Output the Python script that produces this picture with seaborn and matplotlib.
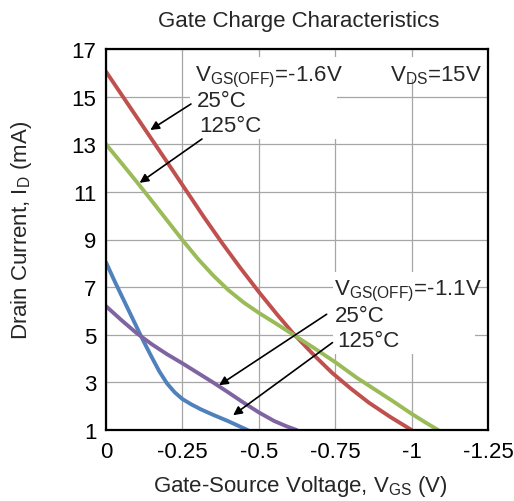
import matplotlib
matplotlib.use("Agg")
import matplotlib.pyplot as plt
from matplotlib.patches import Rectangle
import seaborn as sns
import pandas as pd

# ---- data ----
v_red = [0, -0.05, -0.10, -0.15, -0.20, -0.26, -0.32, -0.38, -0.44, -0.50, -0.56,
         -0.613, -0.68, -0.74, -0.80, -0.86, -0.93, -1.0]
i_red = [16.05, 15.1, 14.15, 13.2, 12.25, 11.1, 9.95, 8.85, 7.8, 6.8, 5.85,
         5.05, 4.15, 3.4, 2.75, 2.15, 1.55, 1.0]

v_green = [0, -0.05, -0.10, -0.15, -0.20, -0.25, -0.30, -0.35, -0.40, -0.45, -0.50,
           -0.56, -0.613, -0.68, -0.75, -0.82, -0.88, -0.94, -1.0, -1.05, -1.087]
i_green = [13.0, 12.22, 11.43, 10.62, 9.8, 8.98, 8.2, 7.5, 6.88, 6.36, 5.92,
           5.44, 5.0, 4.45, 3.85, 3.2, 2.7, 2.2, 1.68, 1.28, 1.0]

v_blue = [0, -0.03, -0.06, -0.09, -0.12, -0.15, -0.175, -0.20, -0.225, -0.25,
          -0.28, -0.31, -0.35, -0.40, -0.463]
i_blue = [8.04, 7.2, 6.4, 5.6, 4.8, 4.05, 3.45, 2.95, 2.58, 2.3,
          2.07, 1.87, 1.64, 1.37, 1.0]

v_purple = [0, -0.05, -0.10, -0.15, -0.20, -0.25, -0.30, -0.35, -0.40, -0.45,
            -0.50, -0.55, -0.59, -0.624]
i_purple = [6.2, 5.62, 5.07, 4.6, 4.18, 3.8, 3.4, 3.0, 2.58, 2.15,
            1.74, 1.38, 1.16, 1.0]

series_names = ["-1.6V 25C", "-1.6V 125C", "-1.1V 125C", "-1.1V 25C"]
colors = ["#c0504d", "#9bbb59", "#4f81bd", "#8064a2"]

x_ticks = [0, -0.25, -0.5, -0.75, -1.0, -1.25]
x_labels = ["0", "-0.25", "-0.5", "-0.75", "-1", "-1.25"]
y_ticks = [1, 3, 5, 7, 9, 11, 13, 15, 17]

frames = []
for name, v, i in zip(series_names, [v_red, v_green, v_blue, v_purple],
                      [i_red, i_green, i_blue, i_purple]):
    frames.append(pd.DataFrame({"V": v, "I": i, "series": name}))
df = pd.concat(frames, ignore_index=True)

# ---- style ----
sns.set_style("white")
plt.rcParams["font.family"] = ["Liberation Sans", "DejaVu Sans"]
plt.rcParams["mathtext.fontset"] = "custom"
plt.rcParams["mathtext.rm"] = "Liberation Sans"
plt.rcParams["mathtext.it"] = "Liberation Sans"
plt.rcParams["mathtext.bf"] = "Liberation Sans:bold"
plt.rcParams["axes.unicode_minus"] = False
plt.rcParams["lines.solid_capstyle"] = "round"
plt.rcParams["lines.solid_joinstyle"] = "round"

FS = 16
fig = plt.figure(figsize=(5.14, 5.02), dpi=100)
ax = fig.add_axes([106 / 514, 1 - 431 / 502, 382 / 514, 381 / 502])

sns.lineplot(data=df, x="V", y="I", hue="series", hue_order=series_names,
             palette=colors, sort=False, legend=False, linewidth=2.8,
             estimator=None, ax=ax, zorder=2)

ax.set_xlim(0, -1.25)
ax.set_ylim(1, 17)
ax.set_xticks(x_ticks)
ax.set_xticklabels(x_labels)
ax.set_yticks(y_ticks)
ax.set_yticklabels([str(t) for t in y_ticks])
ax.tick_params(axis="both", length=0, labelsize=FS, colors="black")
ax.tick_params(axis="x", pad=8)
ax.tick_params(axis="y", pad=7)
ax.set_axisbelow(True)
ax.grid(True, color="#a6a6a6", linewidth=0.9)
for s in ax.spines.values():
    s.set_color("black")
    s.set_linewidth(1.6)
    s.set_zorder(5)

# white boxes behind annotation text
for (x0, x1, y0, y1) in [(-0.276, -0.756, 13.22, 16.66),
                         (-0.906, -1.223, 15.74, 16.66),
                         (-0.744, -1.207, 4.18, 7.63)]:
    ax.add_patch(Rectangle((x0, y0), x1 - x0, y1 - y0, facecolor="white",
                           edgecolor="none", zorder=1))

ax.text(-0.2896, 15.70, r"V$_{\mathrm{GS(OFF)}}$=-1.6V", fontsize=FS, va="baseline", ha="left", zorder=3)
ax.text(-0.2975, 14.62, "25°C", fontsize=FS, va="baseline", ha="left", zorder=3)
ax.text(-0.305, 13.57, "125°C", fontsize=FS, va="baseline", ha="left", zorder=3)
ax.text(-0.929, 15.70, r"V$_{\mathrm{DS}}$=15V", fontsize=FS, va="baseline", ha="left", zorder=3)
ax.text(-0.747, 6.70, r"V$_{\mathrm{GS(OFF)}}$=-1.1V", fontsize=FS, va="baseline", ha="left", zorder=3)
ax.text(-0.750, 5.58, "25°C", fontsize=FS, va="baseline", ha="left", zorder=3)
ax.text(-0.757, 4.53, "125°C", fontsize=FS, va="baseline", ha="left", zorder=3)

arrows = [((-0.278, 14.69), (-0.145, 13.60)),
          ((-0.314, 13.22), (-0.110, 11.38)),
          ((-0.722, 5.86), (-0.370, 2.88)),
          ((-0.741, 4.67), (-0.416, 1.62))]
for tail, head in arrows:
    ax.annotate("", xy=head, xytext=tail,
                arrowprops=dict(arrowstyle="-|>", color="black", lw=1.2,
                                mutation_scale=13, shrinkA=0, shrinkB=0),
                zorder=4)

ax.set_xlabel(r"Gate-Source Voltage, V$_{\mathrm{GS}}$ (V)", fontsize=FS)
ax.xaxis.set_label_coords((300 - 106) / 382, (431 - 487) / 381)
ax.xaxis.label.set_va("center")
ax.set_ylabel(r"Drain Current, I$_{\mathrm{D}}$ (mA)", fontsize=FS)
ax.yaxis.set_label_coords((21.7 - 106) / 382, (431 - 230) / 381)
ax.yaxis.label.set_va("center")

fig.text(299 / 514, 1 - 22 / 502, "Gate Charge Characteristics", fontsize=FS,
         ha="center", va="center")

fig.savefig("out.png", dpi=100, facecolor="white")
